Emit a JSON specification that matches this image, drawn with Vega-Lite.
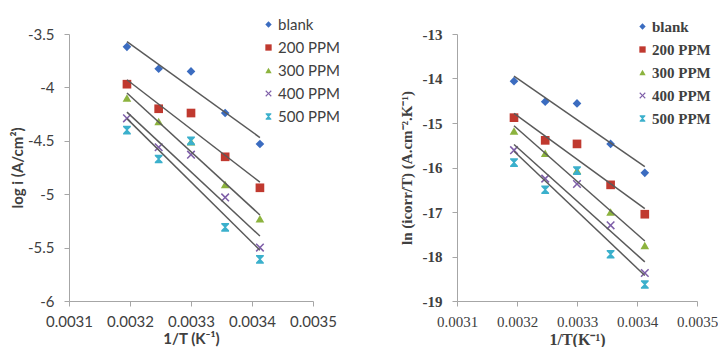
{
  "$schema": "https://vega.github.io/schema/vega-lite/v6.json",
  "background": "white",
  "padding": {"left": 10, "top": 17, "right": 0, "bottom": 0},
  "spacing": 59,
  "config": {
    "view": {"stroke": null},
    "locale": {"number": {"decimal": ".", "thousands": ",", "grouping": [3], "currency": ["$", ""], "minus": "-"}}
  },
  "resolve": {"scale": {"color": "independent", "shape": "independent"}, "legend": {"color": "independent", "shape": "independent"}},
  "data": {"values": [
    {"series": "blank", "x": 0.003195, "logi": -3.62, "lni": -14.06},
    {"series": "blank", "x": 0.003247, "logi": -3.825, "lni": -14.52},
    {"series": "blank", "x": 0.0033, "logi": -3.85, "lni": -14.56},
    {"series": "blank", "x": 0.003356, "logi": -4.24, "lni": -15.47},
    {"series": "blank", "x": 0.003413, "logi": -4.53, "lni": -16.12},
    {"series": "200 PPM", "x": 0.003195, "logi": -3.97, "lni": -14.88},
    {"series": "200 PPM", "x": 0.003247, "logi": -4.2, "lni": -15.39},
    {"series": "200 PPM", "x": 0.0033, "logi": -4.24, "lni": -15.47},
    {"series": "200 PPM", "x": 0.003356, "logi": -4.65, "lni": -16.39},
    {"series": "200 PPM", "x": 0.003413, "logi": -4.94, "lni": -17.05},
    {"series": "300 PPM", "x": 0.003195, "logi": -4.1, "lni": -15.18},
    {"series": "300 PPM", "x": 0.003247, "logi": -4.32, "lni": -15.68},
    {"series": "300 PPM", "x": 0.0033, "logi": -4.51, "lni": -16.07},
    {"series": "300 PPM", "x": 0.003356, "logi": -4.91, "lni": -17.0},
    {"series": "300 PPM", "x": 0.003413, "logi": -5.23, "lni": -17.75},
    {"series": "400 PPM", "x": 0.003195, "logi": -4.29, "lni": -15.61},
    {"series": "400 PPM", "x": 0.003247, "logi": -4.56, "lni": -16.25},
    {"series": "400 PPM", "x": 0.0033, "logi": -4.63, "lni": -16.37},
    {"series": "400 PPM", "x": 0.003356, "logi": -5.03, "lni": -17.3},
    {"series": "400 PPM", "x": 0.003413, "logi": -5.5, "lni": -18.37},
    {"series": "500 PPM", "x": 0.003195, "logi": -4.4, "lni": -15.89},
    {"series": "500 PPM", "x": 0.003247, "logi": -4.67, "lni": -16.5},
    {"series": "500 PPM", "x": 0.0033, "logi": -4.5, "lni": -16.07},
    {"series": "500 PPM", "x": 0.003356, "logi": -5.31, "lni": -17.95},
    {"series": "500 PPM", "x": 0.003413, "logi": -5.61, "lni": -18.63}
  ]},
  "hconcat": [
    {
      "width": 244,
      "height": 267,
      "layer": [
        {
          "mark": {"type": "point", "filled": true, "opacity": 1, "size": 75, "strokeWidth": 0},
          "encoding": {
            "x": {"field": "x", "type": "quantitative",
              "scale": {"domain": [0.0031, 0.0035], "nice": false, "zero": false},
              "axis": {"values": [0.0031, 0.0032, 0.0033, 0.0034, 0.0035], "format": ".4f", "grid": false,
                "domainColor": "#a6a6a6", "tickColor": "#a6a6a6", "tickSize": 5,
                "labelFont": "Lato", "labelFontSize": 15, "labelColor": "#404040", "labelPadding": 8,
                "labelFlush": false, "labelOverlap": false,
                "title": "1/T (K⁻¹)", "titleFont": "Lato", "titleFontSize": 15, "titleFontWeight": "bold", "titleColor": "#404040", "titlePadding": 2}},
            "y": {"field": "logi", "type": "quantitative",
              "scale": {"domain": [-6, -3.5], "nice": false, "zero": false},
              "axis": {"values": [-6, -5.5, -5, -4.5, -4, -3.5], "format": "~g", "grid": false,
                "domainColor": "#a6a6a6", "tickColor": "#a6a6a6", "tickSize": 5,
                "labelFont": "Lato", "labelFontSize": 15, "labelColor": "#404040", "labelPadding": 10,
                "labelOverlap": false,
                "title": "log i (A/cm²)", "titleFont": "Lato", "titleFontSize": 15, "titleFontWeight": "bold", "titleColor": "#404040", "titlePadding": 2}},
            "color": {"field": "series", "type": "nominal",
              "scale": {"domain": ["blank", "200 PPM", "300 PPM", "400 PPM", "500 PPM"], "range": ["#3b6cc0", "#c0392f", "#8cb33e", "#7e5ea8", "#3bb0cc"]},
              "legend": {"orient": "none", "legendX": 192, "legendY": -17, "title": null, "padding": 0,
                "labelFont": "Lato", "labelFontSize": 15, "labelColor": "#404040",
                "symbolSize": 40, "symbolOpacity": 1, "symbolStrokeWidth": 0, "rowPadding": 7, "labelOffset": 2}},
            "shape": {"field": "series", "type": "nominal",
              "scale": {"domain": ["blank", "200 PPM", "300 PPM", "400 PPM", "500 PPM"],
                "range": ["diamond", "square", "triangle-up", "M-1,-0.75L-0.75,-1L0,-0.25L0.75,-1L1,-0.75L0.25,0L1,0.75L0.75,1L0,0.25L-0.75,1L-1,0.75L-0.25,0Z", "M-0.9,-1L0.9,-1L0.9,-0.7L0.2,0L0.9,0.7L0.9,1L-0.9,1L-0.9,0.7L-0.2,0L-0.9,-0.7Z"]},
              "legend": {"orient": "none", "legendX": 192, "legendY": -17, "title": null, "padding": 0,
                "labelFont": "Lato", "labelFontSize": 15, "labelColor": "#404040",
                "symbolSize": 40, "symbolOpacity": 1, "symbolStrokeWidth": 0, "rowPadding": 7, "labelOffset": 2}}
          }
        },
        {
          "transform": [{"regression": "logi", "on": "x", "groupby": ["series"]}],
          "mark": {"type": "line", "color": "#5a5a5a", "strokeWidth": 1.5},
          "encoding": {
            "x": {"field": "x", "type": "quantitative"},
            "y": {"field": "logi", "type": "quantitative"},
            "detail": {"field": "series"}
          }
        }
      ]
    },
    {
      "width": 240,
      "height": 267,
      "layer": [
        {
          "mark": {"type": "point", "filled": true, "opacity": 1, "size": 75, "strokeWidth": 0},
          "encoding": {
            "x": {"field": "x", "type": "quantitative",
              "scale": {"domain": [0.0031, 0.0035], "nice": false, "zero": false},
              "axis": {"values": [0.0031, 0.0032, 0.0033, 0.0034, 0.0035], "format": ".4f", "grid": false,
                "domainColor": "#a6a6a6", "tickColor": "#a6a6a6", "tickSize": 5,
                "labelFont": "Liberation Serif", "labelFontSize": 15, "labelColor": "#404040", "labelPadding": 8,
                "labelFlush": false, "labelOverlap": false,
                "title": "1/T(K⁻¹)", "titleFont": "Liberation Serif", "titleFontSize": 16, "titleFontWeight": "bold", "titleColor": "#404040", "titlePadding": 2}},
            "y": {"field": "lni", "type": "quantitative",
              "scale": {"domain": [-19, -13], "nice": false, "zero": false},
              "axis": {"values": [-19, -18, -17, -16, -15, -14, -13], "format": "~g", "grid": false,
                "domainColor": "#a6a6a6", "tickColor": "#a6a6a6", "tickSize": 5,
                "labelFont": "Liberation Serif", "labelFontSize": 15, "labelFontWeight": "bold", "labelColor": "#404040", "labelPadding": 10,
                "labelOverlap": false,
                "title": "ln (icorr/T) (A.cm⁻².K⁻¹)", "titleFont": "Liberation Serif", "titleFontSize": 15, "titleFontWeight": "bold", "titleColor": "#404040", "titlePadding": 8}},
            "color": {"field": "series", "type": "nominal",
              "scale": {"domain": ["blank", "200 PPM", "300 PPM", "400 PPM", "500 PPM"], "range": ["#3b6cc0", "#c0392f", "#8cb33e", "#7e5ea8", "#3bb0cc"]},
              "legend": {"orient": "none", "legendX": 178, "legendY": -15, "title": null, "padding": 0,
                "labelFont": "Liberation Serif", "labelFontSize": 15, "labelFontWeight": "bold", "labelColor": "#404040",
                "symbolSize": 40, "symbolOpacity": 1, "symbolStrokeWidth": 0, "rowPadding": 7, "labelOffset": 2}},
            "shape": {"field": "series", "type": "nominal",
              "scale": {"domain": ["blank", "200 PPM", "300 PPM", "400 PPM", "500 PPM"],
                "range": ["diamond", "square", "triangle-up", "M-1,-0.75L-0.75,-1L0,-0.25L0.75,-1L1,-0.75L0.25,0L1,0.75L0.75,1L0,0.25L-0.75,1L-1,0.75L-0.25,0Z", "M-0.9,-1L0.9,-1L0.9,-0.7L0.2,0L0.9,0.7L0.9,1L-0.9,1L-0.9,0.7L-0.2,0L-0.9,-0.7Z"]},
              "legend": {"orient": "none", "legendX": 178, "legendY": -15, "title": null, "padding": 0,
                "labelFont": "Liberation Serif", "labelFontSize": 15, "labelFontWeight": "bold", "labelColor": "#404040",
                "symbolSize": 40, "symbolOpacity": 1, "symbolStrokeWidth": 0, "rowPadding": 7, "labelOffset": 2}}
          }
        },
        {
          "transform": [{"regression": "lni", "on": "x", "groupby": ["series"]}],
          "mark": {"type": "line", "color": "#5a5a5a", "strokeWidth": 1.5},
          "encoding": {
            "x": {"field": "x", "type": "quantitative"},
            "y": {"field": "lni", "type": "quantitative"},
            "detail": {"field": "series"}
          }
        }
      ]
    }
  ]
}
